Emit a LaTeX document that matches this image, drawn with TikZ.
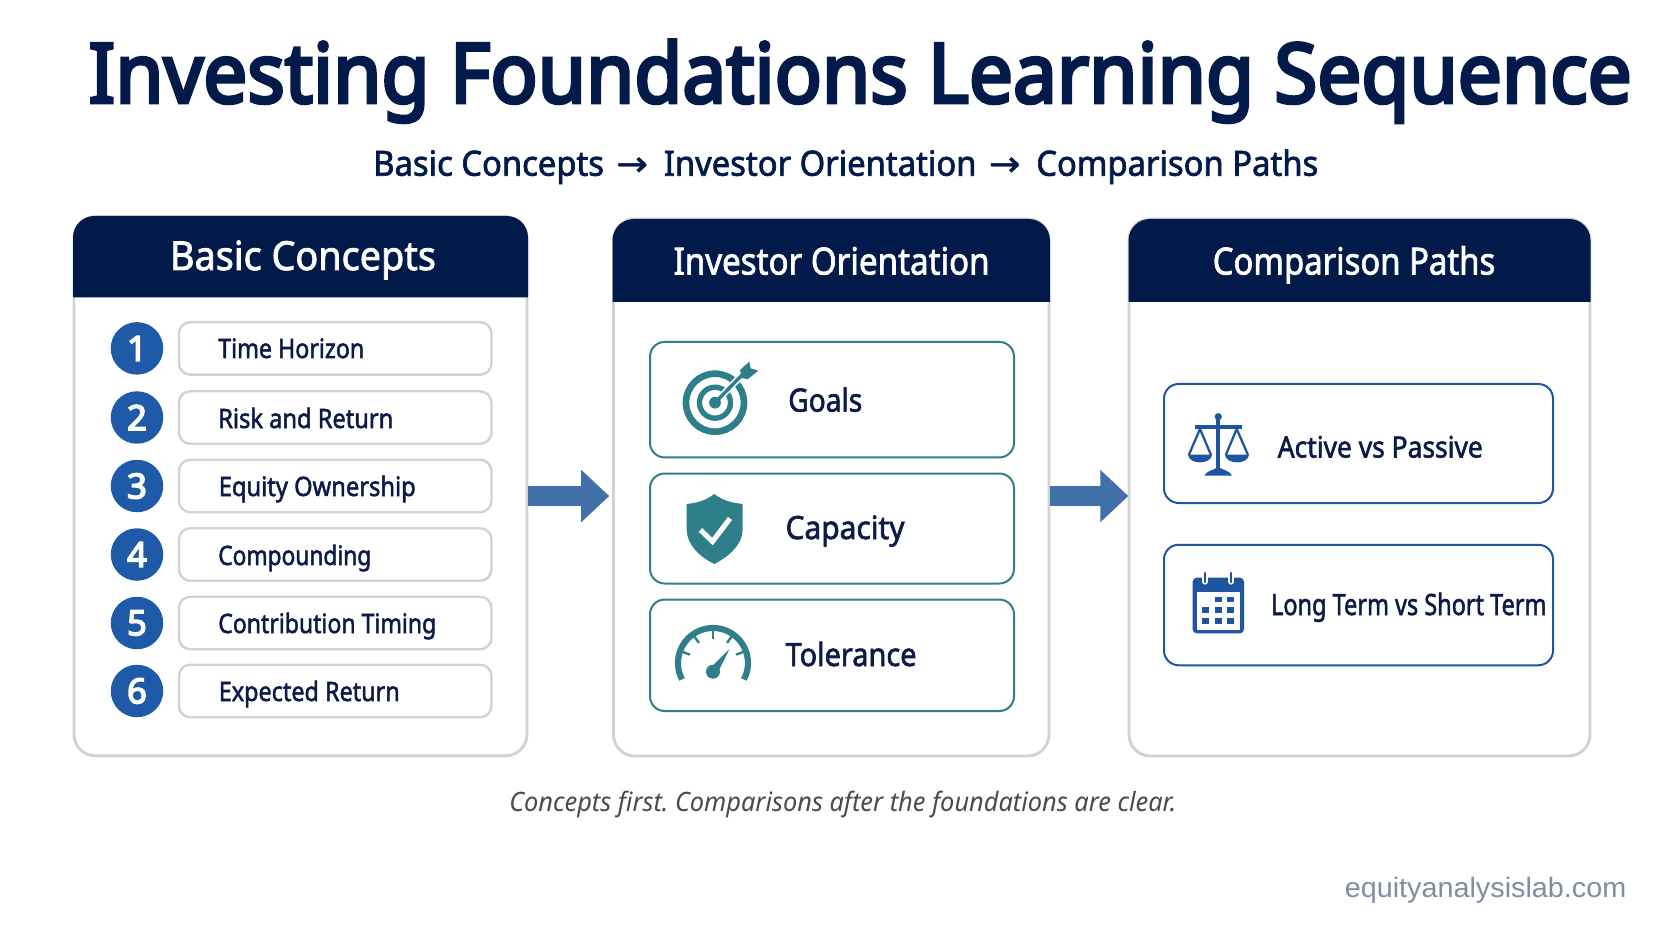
\documentclass[tikz,border=0pt]{standalone}
\usepackage{graphicx}
\usepackage{fontspec}
\usetikzlibrary{arrows.meta}
\setmainfont{Noto Sans}
\newfontfamily\medf[FakeBold=2.0]{Noto Sans}
\newfontfamily\boldf[FakeBold=4.2]{Noto Sans}
\newfontfamily\arrowf[FakeBold=1.2]{DejaVu Sans}
\newfontfamily\wmf{Liberation Sans}
\newlength\px \setlength\px{0.75pt}
\newcommand{\fitw}[2]{\resizebox{#1\px}{\height}{#2}}
\newcommand{\flowsign}{\hspace{0.38em}{\arrowf\scalebox{1.15}[1]{→}}\hspace{0.48em}}
\definecolor{navy}{HTML}{021A4A}
\definecolor{inktext}{HTML}{0C1A48}
\definecolor{teal2}{HTML}{2E7F8A}
\definecolor{blue2}{HTML}{1F55A0}
\definecolor{dotblue}{HTML}{1F5AA8}
\definecolor{arrowblue}{HTML}{4270A9}
\definecolor{edgegrey}{HTML}{D0D2D6}
\definecolor{capgrey}{HTML}{484B52}
\definecolor{wmgrey}{HTML}{7F8DA6}
\tikzset{
 panel/.style={draw=edgegrey,line width=2.2pt,fill=white,rounded corners=16pt,inner sep=0,minimum width=#1},
 itempill/.style={draw=edgegrey,line width=1.8pt,fill=white,rounded corners=8.5pt,inner sep=0,minimum width=312.5\px,minimum height=52.5\px},
 numdot/.style={circle,fill=dotblue,inner sep=0,minimum size=52.5\px,text=white,font=\boldf\fontsize{26}{26}\selectfont},
 tealbox/.style={draw=teal2,line width=1.5pt,fill=white,rounded corners=11pt,inner sep=0,minimum width=364\px},
 bluebox/.style={draw=blue2,line width=1.5pt,fill=white,rounded corners=11pt,inner sep=0,minimum width=389\px},
 txt/.style={anchor=base west,inner sep=0,text=inktext},
 hdr/.style={anchor=base,inner sep=0,text=white},
 flowarrow/.style={draw=arrowblue,line width=15.2pt,-{Triangle[length=21pt,width=38pt,fill=arrowblue]}},
}
\begin{document}
\frenchspacing
\begin{tikzpicture}[x=0.75pt,y=-0.75pt]
\useasboundingbox (0,0) rectangle (1672,941);
\fill[white] (0,0) rectangle (1672,941);
% title
\node[anchor=base west,inner sep=0,text=navy] (title) at (88.5,102.7) {\fitw{1543}{\boldf\fontsize{62}{62}\selectfont Investing Foundations Learning Sequence}};
\node[anchor=base west,inner sep=0,text=navy] (subtitle) at (373,175.7) {\fitw{945}{\medf\fontsize{26}{26}\selectfont Basic Concepts\flowsign Investor Orientation\flowsign Comparison Paths}};
% panels
\node[panel=453\px,minimum height=539\px] (pa) at (300.5,486.3) {};
\node[panel=435.5\px,minimum height=537\px] (pb) at (831.25,487.5) {};
\node[panel=461\px,minimum height=537\px] (pc) at (1359.5,487.5) {};
% headers
\fill[navy] (73,297.5) [rounded corners=16pt] -- (73,216) -- (528,216) [sharp corners] -- (528,297.5) -- cycle;
\fill[navy] (612.5,302) [rounded corners=16pt] -- (612.5,219) -- (1050,219) [sharp corners] -- (1050,302) -- cycle;
\fill[navy] (1128.5,302) [rounded corners=16pt] -- (1128.5,219) -- (1590.5,219) [sharp corners] -- (1590.5,302) -- cycle;
\node[hdr] (ha) at (303,270) {\fitw{266}{\medf\fontsize{30}{30}\selectfont Basic Concepts}};
\node[hdr] (hb) at (831.6,274.5) {\fitw{316}{\medf\fontsize{28}{28}\selectfont Investor Orientation}};
\node[hdr] (hc) at (1354,274.5) {\fitw{282.5}{\medf\fontsize{28}{28}\selectfont Comparison Paths}};
% arrows
\draw[flowarrow,shorten >=2.1pt] ([yshift=-7.3pt]pa.east) -- ([yshift=-6.4pt]pb.west);
\draw[flowarrow,shorten >=-0.6pt] ([yshift=-6.4pt]pb.east) -- ([yshift=-6.4pt]pc.west);
% list
\node[numdot] (n1) at (137,348.4) {1};
\node[numdot] (n2) at (137,417.5) {2};
\node[numdot] (n3) at (137,486) {3};
\node[numdot] (n4) at (137,554.5) {4};
\node[numdot] (n5) at (137,623) {5};
\node[numdot] (n6) at (137,691) {6};
\node[itempill] (p1) at (335.2,348.4) {};
\node[itempill] (p2) at (335.2,417.5) {};
\node[itempill] (p3) at (335.2,486) {};
\node[itempill] (p4) at (335.2,554.5) {};
\node[itempill] (p5) at (335.2,623) {};
\node[itempill] (p6) at (335.2,691) {};
\node[txt] (t1) at (218,358) {\fitw{146}{\medf\fontsize{20}{20}\selectfont Time Horizon}};
\node[txt] (t2) at (218,428) {\fitw{175}{\medf\fontsize{20}{20}\selectfont Risk and Return}};
\node[txt] (t3) at (218.5,496) {\fitw{197}{\medf\fontsize{20}{20}\selectfont Equity Ownership}};
\node[txt] (t4) at (218,565) {\fitw{153}{\medf\fontsize{20}{20}\selectfont Compounding}};
\node[txt] (t5) at (218,633) {\fitw{218}{\medf\fontsize{20}{20}\selectfont Contribution Timing}};
\node[txt] (t6) at (218.5,701) {\fitw{181}{\medf\fontsize{20}{20}\selectfont Expected Return}};
% orientation boxes
\node[tealbox,minimum height=115.5\px] (b1) at (832,399.7) {};
\node[tealbox,minimum height=110\px] (b2) at (832,528.5) {};
\node[tealbox,minimum height=111.5\px] (b3) at (832,655.3) {};
\node[txt] (g1) at (788,411.6) {\fitw{74}{\medf\fontsize{24}{24}\selectfont Goals}};
\node[txt] (g2) at (785.3,539) {\fitw{119}{\medf\fontsize{24}{24}\selectfont Capacity}};
\node[txt] (g3) at (785.3,666) {\fitw{131}{\medf\fontsize{24}{24}\selectfont Tolerance}};
% target icon
\draw[teal2,line width=5pt] (715,402.7) circle[radius=29];
\draw[teal2,line width=4pt] (715,402.7) circle[radius=15.5];
\draw[white,line width=5pt] (720,397.6) -- (744,373);
\fill[teal2] (715,402.7) circle[radius=5.9];
\draw[teal2,line width=2.6pt] (716,401.7) -- (744,373);
\fill[teal2] (740,370) -- (749.3,361.7) -- (750.7,368.3) -- (758.3,370.7) -- (747.7,379.3) -- (742,378) -- cycle;
% shield icon
\fill[teal2] (714.3,494) .. controls (705,501) and (696,503) .. (686.7,504) -- (686.7,530) .. controls (687,545) and (700,557) .. (714.3,564) .. controls (728,557) and (742.5,545) .. (742.7,530) -- (742.7,504) .. controls (733,503) and (723,501) .. (714.3,494) -- cycle;
\draw[white,line width=3.8pt] (700.5,530) -- (712.5,541.5) -- (730,518.5);
% gauge icon
\begin{scope}[shift={(713,663)},y=0.75pt]
\draw[teal2,line width=4.6pt] (208:35) arc[start angle=208,end angle=-28,radius=35];
\foreach \a in {20,55,90,125,160} \draw[teal2,line width=1.8pt] (\a:33) -- (\a:24.5);
\fill[teal2] (0,-8.7) circle[radius=7];
\fill[teal2] (-3.6,-6) -- (16.5,14) -- (4,-11) -- cycle;
\end{scope}
% comparison boxes
\node[bluebox,minimum height=119\px] (c1) at (1358.5,443.5) {};
\node[bluebox,minimum height=120.5\px] (c2) at (1358.5,605) {};
\node[txt] (d1) at (1277.5,457.5) {\fitw{205}{\medf\fontsize{22}{22}\selectfont Active vs Passive}};
\node[txt] (d2) at (1270.8,615) {\fitw{275.4}{\medf\fontsize{22}{22}\selectfont Long Term vs Short Term}};
% scales icon
\fill[blue2] (1218.3,416.7) circle[radius=3.6];
\fill[blue2] (1194.5,425) rectangle (1242,429);
\fill[blue2] (1216.3,418) rectangle (1220.3,471);
\fill[blue2] (1204.5,475.5) .. controls (1207,470.5) and (1213,470.5) .. (1218.3,467) .. controls (1223.6,470.5) and (1229.5,470.5) .. (1232,475.5) -- cycle;
\draw[blue2,line width=1.7pt,line join=round] (1188.8,455) -- (1200,429) -- (1211,455);
\draw[blue2,line width=1.7pt,line join=round] (1225.8,455) -- (1236.7,429) -- (1248,455);
\fill[blue2] (1188,454.5) .. controls (1188.5,465) and (1211.5,465) .. (1212,454.5) -- cycle;
\fill[blue2] (1225,454.5) .. controls (1225.5,465) and (1248.5,465) .. (1249,454.5) -- cycle;
% calendar icon
\fill[blue2,rounded corners=3pt] (1192.7,577.7) rectangle (1244,633.3);
\fill[white] (1196.5,591.7) rectangle (1240.2,629.5);
\foreach \xx/\yy in {1218.3/599.3,1230.7/599.3,1205.7/610,1218.3/610,1230.7/610,1205.7/621,1218.3/621,1230.7/621}
  \fill[blue2] (\xx-3.6,\yy-2.8) rectangle (\xx+3.6,\yy+2.8);
\foreach \xx in {1205,1231} {
  \draw[white,line width=3.9pt,line cap=round] (\xx,573) -- (\xx,582);
  \draw[blue2,line width=1.8pt,line cap=round] (\xx,573) -- (\xx,582);
}
% captions
\node[anchor=base west,inner sep=0,text=capgrey] (cap) at (509,811.7) {\fitw{667}{\itshape\fontsize{20}{20}\selectfont Concepts first. Comparisons after the foundations are clear.}};
\node[anchor=base west,inner sep=0,text=wmgrey] (wm) at (1344.6,897) {\fitw{281.4}{\wmf\fontsize{21}{21}\selectfont equityanalysislab.com}};
\end{tikzpicture}
\end{document}
